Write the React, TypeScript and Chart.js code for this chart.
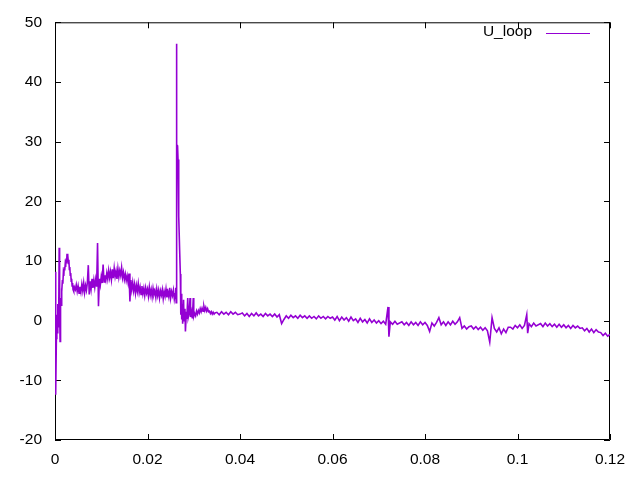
import React, { useEffect, useRef } from "react";
import { Chart, registerables } from "chart.js";

Chart.register(...registerables);

const SERIES_LABEL = "U_loop";
const LINE_COLOR = "#9400D3";
const X_TICKS = [0, 0.02, 0.04, 0.06, 0.08, 0.1, 0.12];
const Y_TICKS = [-20, -10, 0, 10, 20, 30, 40, 50];

// [time, U_loop] samples
const startup: [number, number][] = [
  [0, 8.2], [0.0001, 2.0], [0.0002, -12.4], [0.0003, -3.0], [0.0004, 1.0], [0.0005, -2.0],
  [0.0006, 2.8], [0.0007, -1.0], [0.0008, 0.5], [0.0009, 12.2], [0.001, 2.2], [0.0011, -3.5],
  [0.0012, 3.8], [0.0013, 2.6], [0.0014, 5.4], [0.0015, 4.8], [0.0016, 6.8], [0.0017, 6.2],
  [0.0018, 7.9], [0.0019, 7.5], [0.002, 9.0], [0.0021, 8.4], [0.0022, 9.4], [0.0023, 9.0],
  [0.0024, 10.4], [0.0025, 9.6], [0.0026, 11.2], [0.0027, 10.0], [0.0028, 11.0], [0.0029, 9.6],
  [0.003, 10.2], [0.0031, 8.6], [0.0032, 9.0], [0.0033, 7.6], [0.0034, 8.0], [0.0035, 6.6],
  [0.0036, 7.0], [0.0037, 5.8], [0.0038, 6.3], [0.0039, 5.2], [0.004, 5.9], [0.0041, 4.9],
  [0.0042, 5.6],
];

const plateau: [number, number][] = [
  [0.0044, 5.2], [0.0046, 6.0], [0.0048, 4.9], [0.005, 5.8], [0.0052, 4.6], [0.0054, 5.7],
  [0.0056, 4.8], [0.0058, 6.1], [0.006, 5.0], [0.0062, 6.3], [0.0064, 4.7], [0.0066, 5.9],
  [0.0068, 5.1], [0.007, 6.4], [0.0072, 9.3], [0.0074, 4.4], [0.0076, 6.6], [0.0078, 5.3],
  [0.008, 7.0], [0.0082, 5.5], [0.0084, 6.8], [0.0086, 5.6], [0.0088, 6.9], [0.009, 5.7],
  [0.0092, 13.0], [0.0094, 2.4], [0.0096, 7.0], [0.0098, 6.0], [0.01, 7.4], [0.0102, 6.3],
  [0.0104, 9.4], [0.0106, 6.5], [0.0108, 7.6], [0.011, 6.8], [0.0112, 8.0], [0.0114, 7.0],
  [0.0116, 8.4], [0.0118, 7.2], [0.012, 8.2], [0.0122, 6.9], [0.0124, 8.6], [0.0126, 7.1],
  [0.0128, 8.8], [0.013, 7.4], [0.0132, 8.3], [0.0134, 7.0], [0.0136, 8.7], [0.0138, 7.3],
  [0.014, 8.4], [0.0142, 7.6], [0.0144, 8.9], [0.0146, 7.2], [0.0148, 8.1], [0.015, 6.9],
  [0.0152, 7.8], [0.0154, 6.7], [0.0156, 7.5], [0.0158, 6.4], [0.016, 7.9], [0.0162, 3.2],
  [0.0164, 6.8], [0.0166, 5.2], [0.0168, 6.4], [0.017, 5.0], [0.0172, 6.1], [0.0174, 4.6],
  [0.0176, 5.9], [0.0178, 4.9], [0.018, 6.2], [0.0182, 4.7], [0.0184, 5.6], [0.0186, 4.4],
  [0.0188, 5.8], [0.019, 4.5], [0.0192, 5.4], [0.0194, 4.2], [0.0196, 5.5], [0.0198, 4.6],
  [0.02, 5.3], [0.0202, 4.1], [0.0204, 5.6], [0.0206, 4.3], [0.0208, 5.2], [0.021, 4.0],
  [0.0212, 5.4], [0.0214, 4.4], [0.0216, 5.0], [0.0218, 3.9], [0.022, 5.3], [0.0222, 4.2],
  [0.0224, 5.1], [0.0226, 3.8], [0.0228, 5.0], [0.023, 4.3], [0.0232, 5.2], [0.0234, 3.7],
  [0.0236, 4.9], [0.0238, 4.1], [0.024, 5.3], [0.0242, 3.9], [0.0244, 4.8], [0.0246, 4.0],
  [0.0248, 5.5], [0.025, 3.8], [0.0252, 4.9], [0.0254, 4.2], [0.0256, 5.1], [0.0258, 3.6],
  [0.026, 4.5],
];

const spike: [number, number][] = [
  [0.0261, 5.5], [0.0262, 3.0], [0.02625, 46.4], [0.0263, 44.0], [0.02635, 29.5], [0.0265, 29.3],
  [0.0266, 27.0], [0.0267, 17.8], [0.0268, 17.5], [0.02695, 11.8], [0.0271, 7.8], [0.0272, 1.0],
  [0.0273, 4.5], [0.0274, 0.2], [0.0275, 2.8], [0.0276, -0.5], [0.0278, 3.5], [0.0279, 0.0],
  [0.0281, 2.0], [0.0282, -1.8], [0.0284, 1.5], [0.0285, 0.3], [0.0287, 3.8], [0.0288, 0.5],
  [0.029, 1.2], [0.0292, 3.8], [0.0293, 0.6], [0.0295, 1.5], [0.0297, 0.4], [0.0299, 3.8],
  [0.03, 0.7], [0.0302, 1.2], [0.0304, 0.8], [0.0306, 1.6], [0.0308, 1.1], [0.031, 1.7],
  [0.0312, 1.3], [0.0314, 2.0], [0.0316, 1.5], [0.0318, 2.1], [0.032, 1.6], [0.0322, 2.4],
  [0.0324, 1.7], [0.0326, 2.2], [0.0328, 1.6], [0.033, 2.0], [0.0332, 1.5], [0.0334, 1.6],
  [0.0336, 1.2], [0.0338, 1.5], [0.034, 1.1], [0.0342, 1.4], [0.0344, 1.1], [0.0346, 1.3],
];

const tail: [number, number][] = [
  [0.035, 1.4], [0.0355, 1.0], [0.036, 1.5], [0.0365, 1.1], [0.037, 1.4], [0.0375, 1.0], [0.038, 1.5], [0.0385, 1.1], [0.039, 1.4], [0.0395, 1.0],
  [0.04, 1.1], [0.0405, 1.3], [0.041, 0.8], [0.0415, 1.2], [0.042, 0.7], [0.0425, 1.2], [0.043, 0.8], [0.0435, 1.3], [0.044, 0.8], [0.0445, 1.1],
  [0.045, 0.7], [0.0455, 1.2], [0.046, 0.8], [0.0465, 1.1], [0.047, 0.7], [0.0475, 1.1], [0.048, 0.6], [0.0485, 1.0], [0.049, -0.5], [0.0495, 0.2],
  [0.05, 0.8], [0.0505, 0.4], [0.051, 0.9], [0.0515, 0.5], [0.052, 0.8], [0.0525, 0.4], [0.053, 0.9], [0.0535, 0.5], [0.054, 0.8], [0.0545, 0.4],
  [0.055, 0.8], [0.0555, 0.4], [0.056, 0.7], [0.0565, 0.3], [0.057, 0.8], [0.0575, 0.4], [0.058, 0.7], [0.0585, 0.3], [0.059, 0.7], [0.0595, 0.4],
  [0.06, 0.6], [0.0605, 0.1], [0.061, 0.7], [0.0615, 0.0], [0.062, 0.6], [0.0625, 0.1], [0.063, 0.5], [0.0635, -0.1], [0.064, 0.6], [0.0645, 0.0],
  [0.065, 0.3], [0.0655, -0.3], [0.066, 0.4], [0.0665, -0.2], [0.067, 0.2], [0.0675, -0.4], [0.068, 0.3], [0.0685, -0.3], [0.069, 0.1], [0.0695, -0.4],
  [0.07, 0.0], [0.0705, -0.5], [0.071, -0.1], [0.0715, -0.6], [0.072, 2.3], [0.0722, -2.7], [0.0725, -0.2], [0.073, -0.6], [0.0735, -0.1], [0.074, -0.6],
  [0.075, -0.2], [0.0755, -0.7], [0.076, -0.3], [0.0765, -0.8], [0.077, -0.2], [0.0775, -0.7], [0.078, -0.3], [0.0785, -0.8], [0.079, -0.2], [0.0795, -0.7],
  [0.08, -0.3], [0.0805, -0.8], [0.081, -1.8], [0.0815, -0.4], [0.082, -0.9], [0.0825, -0.3], [0.083, 0.5], [0.0835, -0.7], [0.084, -0.2], [0.0845, -0.8],
  [0.085, -0.2], [0.0855, -0.7], [0.086, -0.1], [0.0865, -0.6], [0.087, -0.2], [0.0875, 0.5], [0.088, -1.3], [0.0885, -0.9], [0.089, -1.4], [0.0895, -1.0],
  [0.09, -0.9], [0.0905, -1.4], [0.091, -1.0], [0.0915, -1.5], [0.092, -1.1], [0.0925, -1.6], [0.093, -1.2], [0.0935, -1.7], [0.094, -3.6], [0.0945, 0.5],
  [0.095, -1.3], [0.0955, -1.9], [0.096, -1.2], [0.0965, -2.2], [0.097, -1.4], [0.0975, -2.0], [0.098, -1.1], [0.0985, -1.1], [0.099, -1.4], [0.0995, -0.8],
  [0.1, -1.2], [0.1005, -0.7], [0.101, -1.3], [0.1015, -0.8], [0.102, 1.0], [0.1022, -2.1], [0.1025, -0.5], [0.103, -1.0], [0.1035, -0.4], [0.104, -0.9],
  [0.105, -0.5], [0.1055, -1.0], [0.106, -0.4], [0.1065, -0.9], [0.107, -0.5], [0.1075, -1.0], [0.108, -0.6], [0.1085, -1.1], [0.109, -0.6], [0.1095, -1.1],
  [0.11, -0.7], [0.1105, -1.2], [0.111, -0.8], [0.1115, -1.3], [0.112, -0.8], [0.1125, -1.2], [0.113, -0.9], [0.1135, -1.3], [0.114, -1.2], [0.1145, -1.7],
  [0.115, -1.3], [0.1155, -1.9], [0.116, -1.4], [0.1165, -2.0], [0.117, -1.5], [0.1175, -1.9], [0.118, -2.0], [0.1185, -2.5], [0.119, -2.1], [0.1195, -2.6],
  [0.12, -2.3],
];

const FONT_FAMILY = '"Liberation Sans", Arial, sans-serif';
const FONT_SIZE = 15.5;

const framePlugin = {
  id: "gnuplotFrame",
  beforeDatasetsDraw(chart: any) {
    const { ctx, chartArea } = chart;
    const { left, right, top, bottom } = chartArea;
    const xs = chart.scales.x;
    const ys = chart.scales.y;
    const tl = 6;
    ctx.save();
    ctx.strokeStyle = "#000";
    ctx.lineWidth = 1;
    ctx.beginPath();
    ctx.rect(left + 0.5, top + 0.5, right - left - 1, bottom - top - 1);
    for (const v of X_TICKS) {
      const p = Math.round(xs.getPixelForValue(v)) + 0.5;
      ctx.moveTo(p, bottom);
      ctx.lineTo(p, bottom - tl);
      ctx.moveTo(p, top);
      ctx.lineTo(p, top + tl);
    }
    for (const v of Y_TICKS) {
      const p = Math.round(ys.getPixelForValue(v)) + 0.5;
      ctx.moveTo(left, p);
      ctx.lineTo(left + tl, p);
      ctx.moveTo(right, p);
      ctx.lineTo(right - tl, p);
    }
    ctx.stroke();
    ctx.restore();
  },
  afterDraw(chart: any) {
    const { ctx } = chart;
    ctx.save();
    ctx.font = `${FONT_SIZE}px ${FONT_FAMILY}`;
    ctx.fillStyle = "#000";
    ctx.textAlign = "right";
    ctx.textBaseline = "middle";
    ctx.fillText(SERIES_LABEL, 532, 32);
    ctx.strokeStyle = LINE_COLOR;
    ctx.lineWidth = 1;
    ctx.beginPath();
    ctx.moveTo(546, 33.5);
    ctx.lineTo(590, 33.5);
    ctx.stroke();
    ctx.restore();
  },
};

export default function App() {
  const canvasRef = useRef<HTMLCanvasElement | null>(null);

  useEffect(() => {
    document.body.style.margin = "0";
    const canvas = canvasRef.current;
    if (!canvas) return;
    const data = [...startup, ...plateau, ...spike, ...tail].map(([x, y]) => ({ x, y }));
    const chart = new Chart(canvas, {
      type: "line",
      data: {
        datasets: [
          {
            label: SERIES_LABEL,
            data,
            borderColor: LINE_COLOR,
            backgroundColor: LINE_COLOR,
            borderWidth: 1.6,
            pointRadius: 0,
            tension: 0,
            fill: false,
          },
        ],
      },
      options: {
        responsive: false,
        animation: false,
        devicePixelRatio: 1,
        layout: { padding: { left: 0, right: 30, top: 20, bottom: 0 } },
        plugins: {
          legend: { display: false },
          tooltip: { enabled: false },
        },
        scales: {
          x: {
            type: "linear",
            min: 0,
            max: 0.12,
            afterFit: (s: any) => {
              s.height = 40;
            },
            afterBuildTicks: (s: any) => {
              s.ticks = X_TICKS.map((v) => ({ value: v }));
            },
            grid: { display: false, drawTicks: false },
            border: { display: false },
            ticks: {
              color: "#000",
              padding: 10,
              maxRotation: 0,
              autoSkip: false,
              font: { family: FONT_FAMILY, size: FONT_SIZE },
              callback: (v: any) => String(Number(Number(v).toFixed(3))),
            },
          },
          y: {
            type: "linear",
            min: -20,
            max: 50,
            afterFit: (s: any) => {
              s.width = 55;
            },
            afterBuildTicks: (s: any) => {
              s.ticks = Y_TICKS.map((v) => ({ value: v }));
            },
            grid: { display: false, drawTicks: false },
            border: { display: false },
            ticks: {
              color: "#000",
              padding: 13,
              autoSkip: false,
              font: { family: FONT_FAMILY, size: FONT_SIZE },
              callback: (v: any) => String(v),
            },
          },
        },
      },
      plugins: [framePlugin],
    });
    return () => chart.destroy();
  }, []);

  return (
    <div style={{ position: "fixed", left: 0, top: 0, width: 640, height: 480, background: "#fff" }}>
      <canvas ref={canvasRef} width={640} height={480} style={{ width: 640, height: 480, display: "block" }} />
    </div>
  );
}
